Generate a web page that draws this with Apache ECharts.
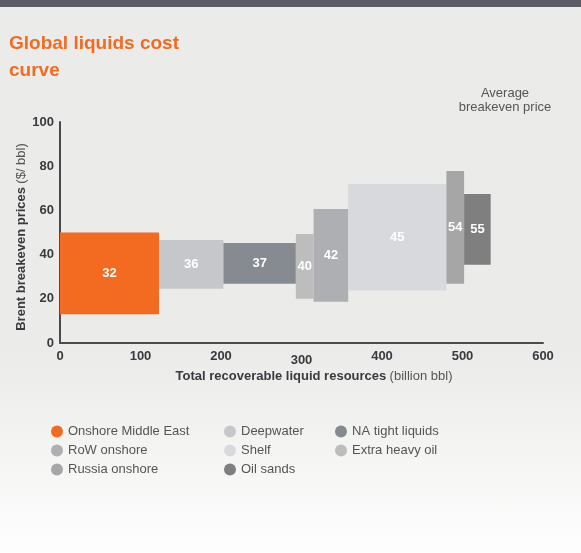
<!DOCTYPE html>
<html>
<head>
<meta charset="utf-8">
<script src="https://cdn.jsdelivr.net/npm/echarts@6/dist/echarts.min.js"></script>
<style>
html,body{margin:0;padding:0;}
body{width:581px;height:553px;background:linear-gradient(to bottom,#EBEBE9 0%,#EBEBE9 64%,#FEFEFE 100%);position:relative;}
#topbar{position:absolute;left:0;top:0;width:581px;height:7px;background:#5C5C67;}
#chart{position:absolute;left:0;top:0;width:581px;height:553px;}
</style>
</head>
<body>
<div id="topbar"></div>
<div id="chart"></div>
<script>
// Data
var names = ['Onshore Middle East','Deepwater','NA tight liquids','Extra heavy oil','RoW onshore','Shelf','Russia onshore','Oil sands'];
var avgPrice = [32, 36, 37, 40, 42, 45, 54, 55];
var xStart = [0, 123, 203, 293, 315, 358, 480, 502];
var xEnd   = [123, 203, 293, 315, 358, 480, 502, 535];
var yLow   = [13, 24.6, 26.8, 20, 18.7, 23.7, 26.8, 35.4];
var yHigh  = [50, 46.6, 45.2, 49.3, 60.6, 71.9, 77.8, 67.4];
var colors = ['#F26B21','#C6C7CA','#868A91','#BDBDBE','#AEAFB3','#D8D9DC','#A6A6A6','#7F7F7F'];
var xTicks = [0,100,200,300,400,500,600];
var yTicks = [0,20,40,60,80,100];

var FONT = '"Liberation Sans", Arial, sans-serif';
var chart = echarts.init(document.getElementById('chart'), null, {renderer:'canvas'});

var series = names.map(function(n, i){
  return {
    type:'custom',
    name:n,
    itemStyle:{color:colors[i]},
    data:[[xStart[i], xEnd[i], yLow[i], yHigh[i], avgPrice[i]]],
    encode:{x:[0,1], y:[2,3]},
    renderItem:function(params, api){
      var p0 = api.coord([api.value(0), api.value(3)]);
      var p1 = api.coord([api.value(1), api.value(2)]);
      return {
        type:'rect',
        shape:{x:p0[0], y:p0[1], width:p1[0]-p0[0], height:p1[1]-p0[1]},
        style:{fill:colors[i]},
        textContent:{
          style:{text:String(api.value(4)), fill:'#FFFFFF', font:'bold 13px ' + FONT}
        },
        textConfig:{position:'inside'}
      };
    }
  };
});

var legendText = {color:'#555555', fontSize:13, fontFamily:FONT};
function mkLegend(items, left){
  return {
    data:items, orient:'vertical', left:left, top:425, icon:'circle',
    itemWidth:12, itemHeight:12, itemGap:6, textStyle:legendText, selectedMode:false, padding:0
  };
}

chart.setOption({
  animation:false,
  title:{
    text:'Global liquids cost\ncurve', left:9, top:30, padding:0,
    textStyle:{color:'#F26B21', fontSize:19, fontWeight:'bold', lineHeight:27, fontFamily:FONT}
  },
  legend:[
    mkLegend(['Onshore Middle East','RoW onshore','Russia onshore'], 51),
    mkLegend(['Deepwater','Shelf','Oil sands'], 224),
    mkLegend(['NA tight liquids','Extra heavy oil'], 335)
  ],
  grid:{left:60, right:38, top:122, bottom:210},
  xAxis:{
    type:'value', min:0, max:600, interval:100,
    axisLine:{show:true, onZero:false, lineStyle:{color:'#4A4A4F', width:2}},
    axisTick:{show:false}, splitLine:{show:false},
    axisLabel:{
      color:'#3A3A3F', fontSize:13, fontWeight:'bold', margin:7,
      fontFamily:FONT,
      formatter:function(v){ return v===300 ? '{d|300}' : String(v); },
      rich:{d:{padding:[4,0,0,0], color:'#3A3A3F', fontSize:13, fontWeight:'bold', fontFamily:FONT}}
    }
  },
  yAxis:{
    type:'value', min:0, max:100, interval:20,
    axisLine:{show:true, lineStyle:{color:'#4A4A4F', width:2}},
    axisTick:{show:false}, splitLine:{show:false},
    axisLabel:{color:'#3A3A3F', fontSize:13, fontWeight:'bold', margin:6, fontFamily:FONT}
  },
  graphic:[
    {type:'text', x:505, y:86, style:{text:'Average\nbreakeven price', align:'center', fill:'#555555', font:'13px ' + FONT, lineHeight:14}},
    {type:'text', x:314, y:370, style:{
      text:'{b|Total recoverable liquid resources} {n|(billion bbl)}', align:'center',
      rich:{b:{fill:'#3A3A3F', font:'bold 13px ' + FONT}, n:{fill:'#555555', font:'13px ' + FONT}}
    }},
    {type:'text', x:15, y:237, rotation:Math.PI/2, style:{
      text:'{b|Brent breakeven prices} {n|($/ bbl)}', align:'center', verticalAlign:'top',
      rich:{b:{fill:'#3A3A3F', font:'bold 13px ' + FONT}, n:{fill:'#555555', font:'13px ' + FONT}}
    }}
  ],
  series:series
});
</script>
</body>
</html>
